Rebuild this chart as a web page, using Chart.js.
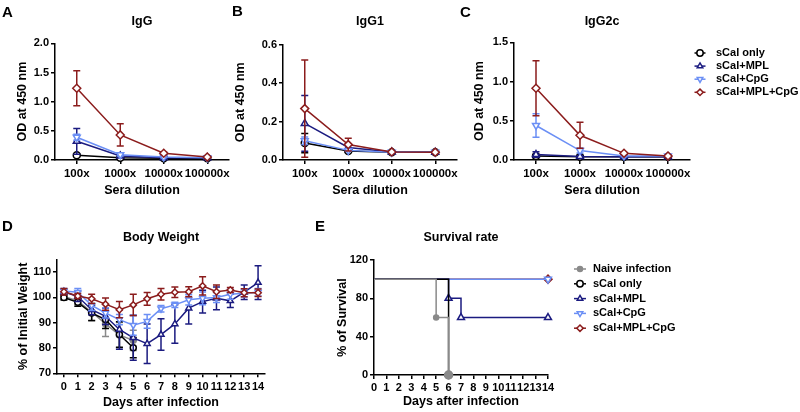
<!DOCTYPE html>
<html><head><meta charset="utf-8">
<script src="https://cdn.jsdelivr.net/npm/chart.js@4.4.1/dist/chart.umd.min.js"></script>
<style>
html,body{margin:0;padding:0;background:#fff;}
#wrap{position:relative;width:800px;height:412px;overflow:hidden;background:#fff;}
#wrap canvas{position:absolute;left:0;top:0;}
.lbl{position:absolute;font:bold 15px "Liberation Sans",Arial,sans-serif;line-height:15px;color:#000;}
</style></head><body>
<div id="wrap">
<canvas id="cA" width="800" height="412"></canvas>
<canvas id="cB" width="800" height="412"></canvas>
<canvas id="cC" width="800" height="412"></canvas>
<canvas id="cD" width="800" height="412"></canvas>
<canvas id="cE" width="800" height="412"></canvas>
<div class="lbl" style="left:2px;top:4px">A</div>
<div class="lbl" style="left:232px;top:3px">B</div>
<div class="lbl" style="left:460px;top:4px">C</div>
<div class="lbl" style="left:2px;top:218px">D</div>
<div class="lbl" style="left:315px;top:218px">E</div>
</div>
<script>
// ---------- data ----------
const dilutions = ['100x', '1000x', '10000x', '100000x'];

// Panel A: IgG (OD at 450 nm), mean and SD
const iggSCal = [0.08, 0.04, 0.03, 0.03];
const iggSCalErr = [0.02, 0.01, 0.01, 0.01];
const iggMPL = [0.32, 0.07, 0.04, 0.04];
const iggMPLErr = [0.22, 0.02, 0.01, 0.01];
const iggCpG = [0.39, 0.09, 0.05, 0.04];
const iggCpGErr = [0.05, 0.02, 0.01, 0.01];
const iggMPLCpG = [1.23, 0.43, 0.115, 0.05];
const iggMPLCpGErr = [0.30, 0.19, 0.02, 0.01];

// Panel B: IgG1
const igg1SCal = [0.088, 0.047, 0.04, 0.04];
const igg1SCalErr = [0.05, 0.005, 0.003, 0.003];
const igg1MPL = [0.19, 0.065, 0.042, 0.04];
const igg1MPLErr = [0.145, 0.01, 0.003, 0.003];
const igg1CpG = [0.10, 0.05, 0.04, 0.04];
const igg1CpGErr = [0.02, 0.005, 0.003, 0.003];
const igg1MPLCpG = [0.267, 0.08, 0.042, 0.04];
const igg1MPLCpGErr = [0.253, 0.033, 0.003, 0.003];

// Panel C: IgG2c
const igg2cSCal = [0.05, 0.04, 0.04, 0.04];
const igg2cSCalErr = [0.02, 0.005, 0.005, 0.005];
const igg2cMPL = [0.07, 0.045, 0.04, 0.04];
const igg2cMPLErr = [0.035, 0.005, 0.005, 0.005];
const igg2cCpG = [0.44, 0.12, 0.05, 0.05];
const igg2cCpGErr = [0.15, 0.03, 0.01, 0.01];
const igg2cMPLCpG = [0.915, 0.315, 0.085, 0.05];
const igg2cMPLCpGErr = [0.35, 0.165, 0.01, 0.01];

const odTicksA = [0, 0.5, 1.0, 1.5, 2.0];
const odTicksB = [0, 0.2, 0.4, 0.6];
const odTicksC = [0, 0.5, 1.0, 1.5];

// Panel D: body weight (% of initial)
const days = [0, 1, 2, 3, 4, 5, 6, 7, 8, 9, 10, 11, 12, 13, 14];
const bwNaive = [100.3, 98.6, 94.2, 89.5, 85.1, 83.0];
const bwNaiveErr = [1, 1.5, 3.5, 5, 5, 4];
const bwSCal = [99.9, 98.0, 93.8, 91.2, 85.3, 80.1];
const bwSCalErr = [1, 1.5, 3, 3.5, 5, 4];
const bwMPL = [102.2, 100.3, 95.1, 92.5, 87.3, 84.0, 81.7, 85.3, 89.5, 95.7, 98.3, 99.6, 98.6, 102.0, 105.8];
const bwMPLErr = [1, 2, 2, 3.2, 7.8, 8.8, 7.8, 6.2, 7.6, 6.2, 4.5, 4.5, 2.6, 2.9, 6.7];
const bwCpG = [102.5, 102.0, 96.8, 93.8, 91.2, 89.0, 90.5, 95.5, 97.0, 99.0, 99.6, 99.9, 101.2, 101.6, 102.0];
const bwCpGErr = [1, 1.5, 2, 2, 2, 4, 2.7, 1.3, 1, 2, 2.5, 2, 2, 1.5, 1.5];
const bwMPLCpG = [102.2, 100.5, 99.4, 97.3, 95.1, 97.0, 99.4, 101.2, 102.0, 102.2, 104.5, 102.2, 102.9, 101.8, 101.8];
const bwMPLCpGErr = [1.3, 1, 1.8, 2.4, 3.2, 4.2, 2.5, 2.3, 2.1, 2, 3.6, 2.7, 1, 1.6, 1.5];
const weightTicks = [70, 80, 90, 100, 110];

// Panel E: survival (%)
const survNaiveDays = [0, 5, 6];
const survNaive = [100, 60, 0];
const survSCalDays = [0, 6];
const survSCal = [100, 0];
const survMPLDays = [0, 6, 7, 14];
const survMPL = [100, 80, 60, 60];
const survCpGDays = [0, 14];
const survCpG = [100, 100];
const survMPLCpGDays = [0, 14];
const survMPLCpG = [100, 100];
const survTicks = [0, 40, 80, 120];

// ---------- styling ----------
const FONT = '"Liberation Sans", Arial, Helvetica, sans-serif';
Chart.defaults.font.family = FONT;
Chart.defaults.font.weight = 'bold';
Chart.defaults.color = '#000';
Chart.defaults.animation = false;

const STYLE = {
  naive:  {label: 'Naive infection', color: '#8a8a8a', point: 'circle',   rot: 0,   r: 2.5, filled: true},
  scal:   {label: 'sCal only',       color: '#000000', point: 'circle',   rot: 0,   r: 3.5},
  mpl:    {label: 'sCal+MPL',        color: '#1b1b80', point: 'triangle', rot: 0,   r: 4},
  cpg:    {label: 'sCal+CpG',        color: '#6b8ff5', point: 'triangle', rot: 180, r: 4},
  mplcpg: {label: 'sCal+MPL+CpG',    color: '#8b1c1c', point: 'rectRot',  rot: 0,   r: 4}
};

function series(key, data, err, extra) {
  const s = STYLE[key];
  return Object.assign({
    label: s.label, data: data, errorBars: err,
    borderColor: s.color, backgroundColor: s.filled ? s.color : '#ffffff',
    pointBorderColor: s.color, pointBackgroundColor: s.filled ? s.color : '#ffffff',
    pointStyle: s.point, pointRotation: s.rot, pointRadius: s.r, pointBorderWidth: 1.5,
    borderWidth: 1.5, tension: 0, fill: false, clip: false
  }, extra || {});
}

function scaleOpts(o) {
  const ticks = {color: '#000', font: {size: o.tickSize || 11, weight: 'bold'},
    padding: o.tickPad !== undefined ? o.tickPad : 2, autoSkip: false, maxRotation: 0, minRotation: 0};
  if (o.cb) ticks.callback = o.cb;
  const sc = {
    type: o.type, offset: !!o.offset,
    border: {display: true, color: '#000', width: 1.5},
    grid: {display: true, drawOnChartArea: false, drawTicks: true, tickLength: 4, color: '#000', lineWidth: 1.5},
    ticks: ticks,
    title: {display: true, text: o.title, color: '#000', font: {size: 12.5, weight: 'bold'}, padding: 0},
    afterFit: o.fit
  };
  if (o.min !== undefined) sc.min = o.min;
  if (o.max !== undefined) sc.max = o.max;
  if (o.tickValues) sc.afterBuildTicks = (s) => { s.ticks = o.tickValues.map(v => ({value: v})); };
  return sc;
}

const errorBarPlugin = {
  id: 'errorBars',
  beforeDatasetDraw(chart, args) {
    const d = chart.data.datasets[args.index];
    if (!d.errorBars) return;
    const ctx = chart.ctx, y = chart.scales.y;
    ctx.save();
    ctx.strokeStyle = d.borderColor; ctx.lineWidth = 1.5;
    args.meta.data.forEach((pt, i) => {
      const v = d.data[i], e = d.errorBars[i];
      if (v == null || !e) return;
      const yt = y.getPixelForValue(v + e), yb = y.getPixelForValue(v - e);
      const cap = 3.5;
      ctx.beginPath();
      ctx.moveTo(pt.x, yt); ctx.lineTo(pt.x, yb);
      ctx.moveTo(pt.x - cap, yt); ctx.lineTo(pt.x + cap, yt);
      ctx.moveTo(pt.x - cap, yb); ctx.lineTo(pt.x + cap, yb);
      ctx.stroke();
    });
    ctx.restore();
  }
};

function drawMarker(ctx, s, x, y, r) {
  ctx.save();
  ctx.lineWidth = 1.5; ctx.strokeStyle = s.color; ctx.fillStyle = s.filled ? s.color : '#fff';
  ctx.beginPath();
  const rad = (s.rot || 0) * Math.PI / 180;
  if (s.point === 'circle') {
    ctx.arc(x, y, r, 0, 2 * Math.PI);
  } else if (s.point === 'triangle') {
    for (let k = 0; k < 3; k++) {
      const a = rad + k * 2 * Math.PI / 3;
      const px = x + Math.sin(a) * r, py = y - Math.cos(a) * r;
      if (k) ctx.lineTo(px, py); else ctx.moveTo(px, py);
    }
    ctx.closePath();
  } else {
    ctx.moveTo(x, y - r); ctx.lineTo(x + r, y); ctx.lineTo(x, y + r); ctx.lineTo(x - r, y); ctx.closePath();
  }
  ctx.fill(); ctx.stroke(); ctx.restore();
}

function legendPlugin(keys, lx, tx, y0, dy, half) {
  return {
    id: 'customLegend',
    afterDraw(chart) {
      const ctx = chart.ctx;
      ctx.save();
      keys.forEach((k, i) => {
        const s = STYLE[k], y = y0 + i * dy;
        ctx.strokeStyle = s.color; ctx.lineWidth = 1.5;
        ctx.beginPath(); ctx.moveTo(lx - half, y); ctx.lineTo(lx + half, y); ctx.stroke();
        drawMarker(ctx, s, lx, y, Math.min(s.r, 3.2));
        ctx.fillStyle = '#000'; ctx.font = 'bold 11px ' + FONT;
        ctx.textBaseline = 'middle'; ctx.textAlign = 'left';
        ctx.fillText(s.label, tx, y);
      });
      ctx.restore();
    }
  };
}

function titleOpts(text, pb) {
  return {display: true, text: text, color: '#000', font: {size: 12.5, weight: 'bold'},
    fullSize: false, padding: {top: 0, bottom: pb}};
}

function odChart(id, title, sets, ticks, yMax, L, yW, T, pb, R, extraPlugins) {
  return new Chart(document.getElementById(id), {
    type: 'line',
    data: {labels: dilutions, datasets: sets},
    options: {
      responsive: false, animation: false, events: [],
      layout: {padding: {left: L, top: T, right: R, bottom: 213.5}},
      plugins: {legend: {display: false}, tooltip: {enabled: false}, title: titleOpts(title, pb)},
      scales: {
        x: scaleOpts({type: 'category', offset: true, title: 'Sera dilution', tickSize: 11.5, tickPad: 3,
          fit: s => { s.height = 38.5; }}),
        y: scaleOpts({type: 'linear', min: 0, max: yMax, title: 'OD at 450 nm', tickValues: ticks,
          cb: v => Number(v).toFixed(1), fit: s => { s.width = yW; }})
      }
    },
    plugins: [errorBarPlugin].concat(extraPlugins || [])
  });
}

// Panel A
odChart('cA', 'IgG', [
  series('scal', iggSCal, iggSCalErr, {order: 4}),
  series('mpl', iggMPL, iggMPLErr, {order: 3}),
  series('cpg', iggCpG, iggCpGErr, {order: 2}),
  series('mplcpg', iggMPLCpG, iggMPLCpGErr, {order: 1})
], odTicksA, 2.0, 15.5, 39.5, 14, 14.3, 571);

// Panel B
odChart('cB', 'IgG1', [
  series('scal', igg1SCal, igg1SCalErr, {order: 4}),
  series('mpl', igg1MPL, igg1MPLErr, {order: 3}),
  series('cpg', igg1CpG, igg1CpGErr, {order: 2}),
  series('mplcpg', igg1MPLCpG, igg1MPLCpGErr, {order: 1})
], odTicksB, 0.6, 233.5, 49.5, 14.5, 15, 343);

// Panel C (with legend)
odChart('cC', 'IgG2c', [
  series('scal', igg2cSCal, igg2cSCalErr, {order: 4}),
  series('mpl', igg2cMPL, igg2cMPLErr, {order: 3}),
  series('cpg', igg2cCpG, igg2cCpGErr, {order: 2}),
  series('mplcpg', igg2cMPLCpG, igg2cMPLCpGErr, {order: 1})
], odTicksC, 1.5, 472.5, 41.5, 14.5, 12.8, 110,
  [legendPlugin(['scal', 'mpl', 'cpg', 'mplcpg'], 700, 716, 53, 13.1, 5.5)]);

// Panel D: body weight
new Chart(document.getElementById('cD'), {
  type: 'line',
  data: {labels: days, datasets: [
    series('naive', bwNaive, bwNaiveErr, {order: 6, pointRadius: 3}),
    series('scal', bwSCal, bwSCalErr, {order: 5, pointRadius: 3}),
    series('mpl', bwMPL, bwMPLErr, {order: 4, pointRadius: 3.5}),
    series('cpg', bwCpG, bwCpGErr, {order: 3, pointRadius: 3.5}),
    series('mplcpg', bwMPLCpG, bwMPLCpGErr, {order: 2, pointRadius: 3.2})
  ]},
  options: {
    responsive: false, animation: false, events: [],
    layout: {padding: {left: 16.5, top: 230.5, right: 535, bottom: 1.5}},
    plugins: {legend: {display: false}, tooltip: {enabled: false}, title: titleOpts('Body Weight', 13.8)},
    scales: {
      x: scaleOpts({type: 'category', offset: true, title: 'Days after infection', tickSize: 11, tickPad: 3,
        fit: s => { s.height = 37.2; }}),
      y: scaleOpts({type: 'linear', min: 70, max: 115, title: '% of Initial Weight', tickValues: weightTicks,
        fit: s => { s.width = 40.5; }})
    }
  },
  plugins: [errorBarPlugin]
});

// Panel E: survival
function pts(xs, ys) { return xs.map((d, i) => ({x: d, y: ys[i]})); }
const hideFirst = (r) => (c) => c.dataIndex === 0 ? 0 : r;
new Chart(document.getElementById('cE'), {
  type: 'line',
  data: {datasets: [
    series('naive', pts(survNaiveDays, survNaive), null, {stepped: 'before',
      pointRadius: c => c.dataIndex === 0 ? 0 : (c.dataIndex === c.dataset.data.length - 1 ? 4 : 2.5)}),
    series('scal', pts(survSCalDays, survSCal), null, {stepped: 'before', pointRadius: hideFirst(3.5)}),
    series('mpl', pts(survMPLDays, survMPL), null, {stepped: 'before', pointRadius: hideFirst(4)}),
    series('cpg', pts(survCpGDays, survCpG), null, {stepped: 'before', pointRadius: hideFirst(4)}),
    series('mplcpg', pts(survMPLCpGDays, survMPLCpG), null, {stepped: 'before', pointRadius: hideFirst(4)})
  ]},
  options: {
    responsive: false, animation: false, events: [],
    layout: {padding: {left: 335.5, top: 230.5, right: 252, bottom: 2.5}},
    plugins: {legend: {display: false}, tooltip: {enabled: false}, title: titleOpts('Survival rate', 14.5)},
    scales: {
      x: scaleOpts({type: 'linear', min: 0, max: 14, title: 'Days after infection', tickSize: 11, tickPad: 2,
        tickValues: days, fit: s => { s.height = 34.5; }}),
      y: scaleOpts({type: 'linear', min: 0, max: 120, title: '% of Survival', tickValues: survTicks,
        fit: s => { s.width = 38.5; }})
    }
  },
  plugins: [legendPlugin(['naive', 'scal', 'mpl', 'cpg', 'mplcpg'], 580, 593, 269, 14.8, 6)]
});
</script>
</body></html>
